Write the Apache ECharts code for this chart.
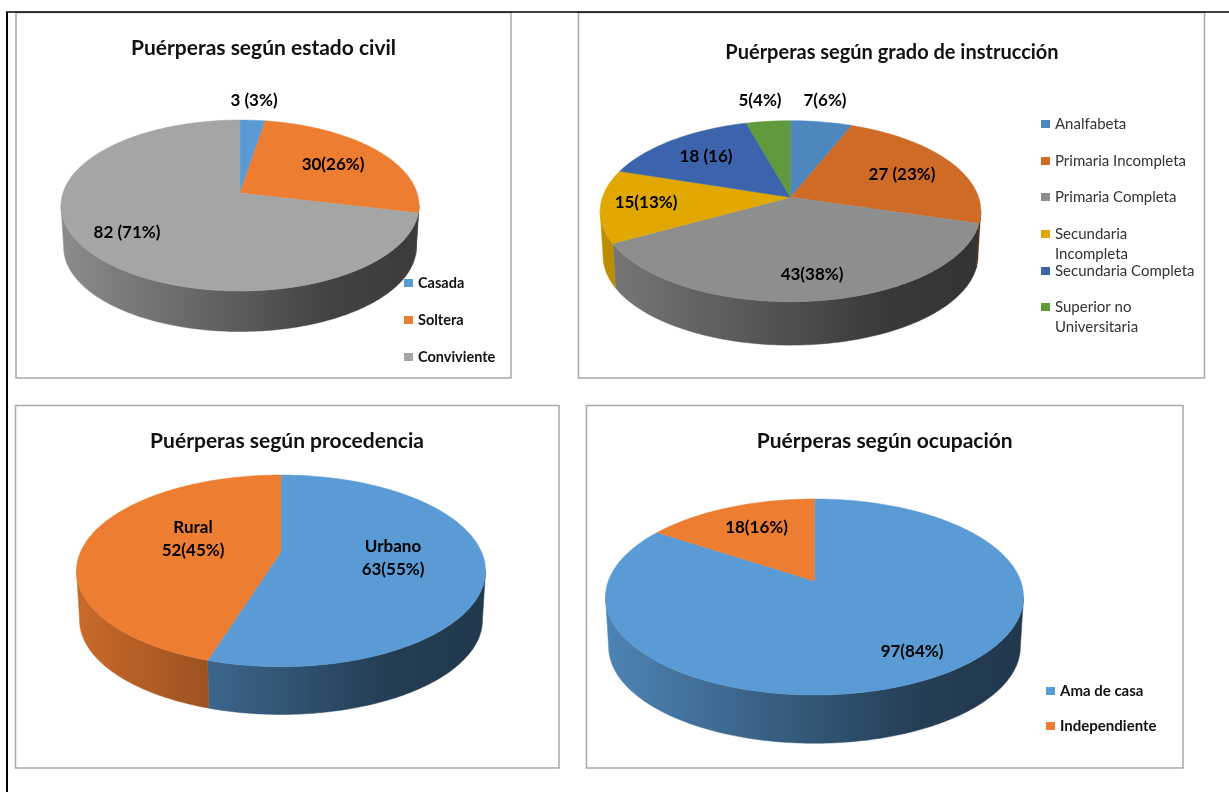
<!DOCTYPE html>
<html>
<head>
<meta charset="utf-8">
<style>html,body{margin:0;padding:0;background:#fff}#c{width:1229px;height:792px}</style>
<script src="https://cdn.jsdelivr.net/npm/echarts@6/dist/echarts.min.js"></script>
</head>
<body>
<div id="c"></div>
<script>
// ---- data ----
const civilNames = ['Casada', 'Soltera', 'Conviviente'];
const civilValues = [3, 30, 82];
const civilLabels = ['3 (3%)', '30(26%)', '82 (71%)'];

const gradoNames = ['Analfabeta', 'Primaria Incompleta', 'Primaria Completa', 'Secundaria Incompleta', 'Secundaria Completa', 'Superior no Universitaria'];
const gradoValues = [7, 27, 43, 15, 18, 5];
const gradoLabels = ['7(6%)', '27 (23%)', '43(38%)', '15(13%)', '18 (16)', '5(4%)'];

const procedenciaNames = ['Urbano', 'Rural'];
const procedenciaValues = [63, 52];
const procedenciaLabels = ['Urbano\n63(55%)', 'Rural\n52(45%)'];

const ocupacionNames = ['Ama de casa', 'Independiente'];
const ocupacionValues = [97, 18];
const ocupacionLabels = ['97(84%)', '18(16%)'];

const titles = ['Puérperas según estado civil', 'Puérperas según grado de instrucción', 'Puérperas según procedencia', 'Puérperas según ocupación'];

// ---- layout and style ----
const FONT = 'Lato';
const wrapped = {'Secundaria Incompleta': '\nSecundaria\nIncompleta', 'Superior no Universitaria': '\nSuperior no\nUniversitaria'};
const panels = [
  {names: civilNames, values: civilValues, labels: civilLabels, title: titles[0], frame: [16, 12.5, 511, 378], titleAt: [263.5, 48], titleSize: 21,
   cx: 240, vy: 193, top: 120, bottom: 291, rx: 179, depth: 42, shrink: 0.985,
   colors: ['#5B9BD5', '#ED7D31', '#A5A5A5'],
   labelAt: [[254, 101], [333, 165], [127, 233]],
   legend: {x: 404, ys: [283, 320, 357], weight: 'bold', color: '#111', size: 14.5}},
  {names: gradoNames, values: gradoValues, labels: gradoLabels, title: titles[1], frame: [578.5, 12.5, 1204.5, 378], titleAt: [892, 52.5], titleSize: 20,
   cx: 790.5, vy: 197.3, top: 120.7, bottom: 301.7, rx: 190.3, depth: 45, shrink: 0.985,
   colors: ['#4E86BE', '#CF6B27', '#8E8E8E', '#E0A800', '#3B64AD', '#5F9B3C'],
   labelAt: [[825, 101], [902, 175], [812, 275], [646, 203], [706, 157], [760, 101]],
   legend: {x: 1041, ys: [124, 161, 197, 234, 271, 307], weight: 'normal', color: '#333', size: 15}},
  {names: procedenciaNames, values: procedenciaValues, labels: procedenciaLabels, title: titles[2], frame: [15.5, 405.5, 559, 768], titleAt: [287, 441], titleSize: 21,
   cx: 281, vy: 551.7, top: 475, bottom: 666.7, rx: 204.5, depth: 49.5, shrink: 0.985,
   colors: ['#5B9BD5', '#ED7D31'],
   labelAt: [[393, 558], [193, 539]]},
  {names: ocupacionNames, values: ocupacionValues, labels: ocupacionLabels, title: titles[3], frame: [586.5, 405.5, 1183, 768], titleAt: [884.7, 441], titleSize: 21,
   cx: 814.5, vy: 581, top: 499, bottom: 695, rx: 209, depth: 50, shrink: 0.985,
   colors: ['#5B9BD5', '#ED7D31'],
   labelAt: [[912, 652], [756.5, 528]],
   legend: {x: 1046, ys: [691, 726], weight: 'bold', color: '#111', size: 15}}
];

function shade(hex, f) {
  const n = parseInt(hex.slice(1), 16);
  const c = [n >> 16 & 255, n >> 8 & 255, n & 255].map(v => Math.round(v * f));
  return 'rgb(' + c.join(',') + ')';
}

// A circle seen in perspective: the hub sits above the middle of the ellipse.
function projector(p) {
  const up = p.vy - p.top, down = p.bottom - p.vy;
  const b = 2 * up * down / (up + down);
  const k = b / up - 1;
  const a = p.rx * Math.sqrt(1 - k * k);
  return {
    k,
    at(deg, scale, dy) {
      const t = deg * Math.PI / 180;
      const w = 1 + k * Math.cos(t);
      return [p.cx + scale * a * Math.sin(t) / w, p.vy + dy - scale * b * Math.cos(t) / w];
    }
  };
}

function arc(from, to, fn) {
  const pts = [];
  const n = Math.max(1, Math.ceil(Math.abs(to - from)));
  for (let i = 0; i <= n; i++) pts.push(fn(from + (to - from) * i / n));
  return pts;
}

const series = [], legends = [], titleOpts = [], frames = [];

panels.forEach(p => {
  const total = p.values.reduce((s, v) => s + v, 0);
  const proj = projector(p);
  const edge = Math.acos(-proj.k) * 180 / Math.PI;   // where the side wall starts
  const x0 = p.cx - p.rx, x1 = p.cx + p.rx;

  titleOpts.push({
    text: p.title, left: p.titleAt[0], top: p.titleAt[1], textAlign: 'center', textVerticalAlign: 'middle', padding: 0,
    textStyle: {fontFamily: FONT, fontWeight: 'bold', fontSize: p.titleSize, color: '#111'}
  });
  frames.push({type: 'rect', silent: true, shape: {x: p.frame[0], y: p.frame[1], width: p.frame[2] - p.frame[0], height: p.frame[3] - p.frame[1]},
    style: {fill: '#fff', stroke: '#A9A9A9', lineWidth: 1.5}, z: -10});

  let cum = 0;
  p.names.forEach((name, i) => {
    const startValue = cum;
    cum += p.values[i];
    const color = p.colors[i];
    series.push({
      type: 'custom', name, coordinateSystem: 'none', silent: true,
      itemStyle: {color},
      data: [[p.values[i]]],
      renderItem(params, api) {
        const from = startValue / total * 360;
        const to = from + api.value(0) / total * 360;
        const children = [];
        const a = Math.max(from, edge), z = Math.min(to, 360 - edge);
        if (z > a) {
          const upper = arc(a, z, d => proj.at(d, 1, 0));
          const lower = arc(z, a, d => proj.at(d, p.shrink, p.depth));
          const fill = {type: 'linear', global: true, x: x0, y: 0, x2: x1, y2: 0, colorStops: [
            {offset: 0, color: shade(color, 0.85)},
            {offset: 0.75, color: shade(color, 0.4)},
            {offset: 1, color: shade(color, 0.36)}]};
          children.push({type: 'polygon', z2: 1, shape: {points: upper.concat(lower)}, style: {fill, stroke: fill, lineWidth: 0.5}});
        }
        const pts = [proj.at(0, 0, 0)].concat(arc(from, to, d => proj.at(d, 1, 0)));
        children.push({type: 'polygon', z2: 2, shape: {points: pts}, style: {fill: color, stroke: color, lineWidth: 0.5}});
        children.push({type: 'text', z2: 10, x: p.labelAt[i][0], y: p.labelAt[i][1], style: {
          text: p.labels[i], align: 'center', verticalAlign: 'middle', lineHeight: 23,
          fontFamily: FONT, fontWeight: 'bold', fontSize: 17, fill: '#000'}});
        return {type: 'group', children};
      }
    });
    if (p.legend) {
      const label = wrapped[name] || name;
      const lines = label.split('\n').length;
      legends.push({
        data: [name], orient: 'vertical', left: p.legend.x, top: p.legend.ys[i] - 10 * lines,
        padding: 0, itemWidth: 9, itemHeight: 8, icon: 'rect', selectedMode: false,
        formatter: n => wrapped[n] || n,
        textStyle: {fontFamily: FONT, fontWeight: p.legend.weight, fontSize: p.legend.size, lineHeight: 20, color: p.legend.color}
      });
    }
  });
});

const chart = echarts.init(document.getElementById('c'), null, {renderer: 'canvas'});
chart.setOption({
  animation: false,
  backgroundColor: '#fff',
  title: titleOpts,
  legend: legends,
  tooltip: {show: false},
  graphic: {elements: frames.concat([
    {type: 'line', silent: true, z: -5, shape: {x1: 6, y1: 12, x2: 1229, y2: 12}, style: {stroke: '#000', lineWidth: 1.6}},
    {type: 'line', silent: true, z: -5, shape: {x1: 7, y1: 12, x2: 7, y2: 792}, style: {stroke: '#000', lineWidth: 2}}
  ])},
  series
});
</script>
</body>
</html>
